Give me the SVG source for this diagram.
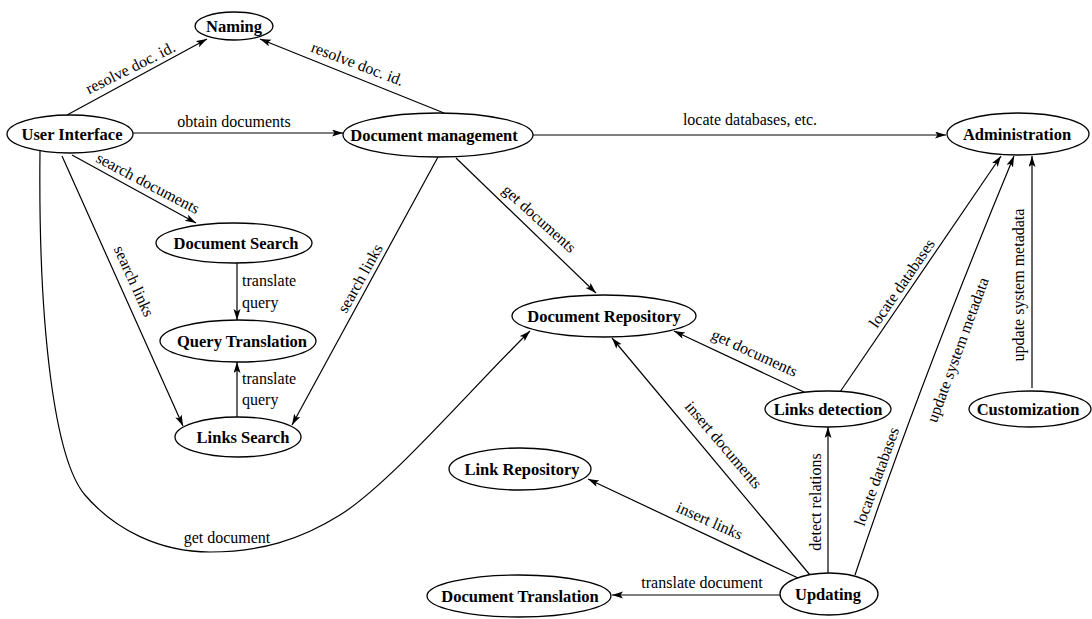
<svg xmlns="http://www.w3.org/2000/svg" width="1092" height="619" viewBox="0 0 1092 619">
<defs>
<style>
.n ellipse{fill:#fff;stroke:#000;stroke-width:1.3}
.n text{font-family:"Liberation Serif","Times New Roman",serif;font-weight:bold;font-size:16.5px;text-anchor:middle;fill:#000}
.e path{fill:none;stroke:#000;stroke-width:1.2;marker-end:url(#ah)}
.l text{font-family:"Liberation Serif","Times New Roman",serif;font-size:16px;fill:#000}
.c{text-anchor:middle}
</style>
<marker id="ah" markerUnits="userSpaceOnUse" markerWidth="12" markerHeight="8" refX="11" refY="3.5" orient="auto">
<path d="M0,0 L11,3.5 L0,7 L2.5,3.5 z" fill="#000"/>
</marker>
</defs>
<rect width="1092" height="619" fill="#fff"/>

<g id="connectors" class="e">
<path d="M67,115 L207,39"/>
<path d="M444,113 L260,39"/>
<path d="M133,133 L343,133"/>
<path d="M533,135 L946,135"/>
<path d="M72,155 L196,223"/>
<path d="M62,156 L183,426"/>
<path d="M438,157 L292,425"/>
<path d="M237,263 L237,320"/>
<path d="M237,417 L237,362"/>
<path d="M40,151 C38,330 55,460 85,495 C115,530 160,552 210,552 C260,552 300,540 340,515 C390,484 470,390 530,331"/>
<path d="M456,158 L596,293"/>
<path d="M806,393 L674,331"/>
<path d="M810,575 L612,338"/>
<path d="M798,578 L588,479"/>
<path d="M780,595 L612,595"/>
<path d="M828,573 L828,427"/>
<path d="M855,575 Q915,395 1014,156"/>
<path d="M840,392 L1001,156"/>
<path d="M1032,388 L1032,156"/>
</g>

<g id="labels" class="l">
<text class="c" transform="translate(131,69) rotate(-26.6)" y="4">resolve doc. id.</text>
<text class="c" transform="translate(357,65) rotate(20.8)" y="4">resolve doc. id.</text>
<text class="c" x="234" y="127">obtain documents</text>
<text class="c" x="750" y="125">locate databases, etc.</text>
<text class="c" transform="translate(146,187) rotate(27.6)" y="1">search documents</text>
<text class="c" transform="translate(130,283) rotate(65.7)" y="1">search links</text>
<text class="c" transform="translate(363,280) rotate(-60.7)" y="2">search links</text>
<text x="242" y="286">translate</text>
<text x="242" y="308">query</text>
<text x="242" y="384">translate</text>
<text x="242" y="405">query</text>
<text class="c" x="227" y="543">get document</text>
<text class="c" transform="translate(537,221) rotate(42)" y="2">get documents</text>
<text class="c" transform="translate(754,354) rotate(24.8)" y="4">get documents</text>
<text class="c" transform="translate(721,447) rotate(49.5)" y="2">insert documents</text>
<text class="c" transform="translate(709,522) rotate(24.1)" y="4">insert links</text>
<text class="c" x="702" y="588">translate document</text>
<text class="c" transform="translate(817,502) rotate(-90)" y="4">detect relations</text>
<text class="c" transform="translate(878,477) rotate(-70)" y="4">locate databases</text>
<text class="c" transform="translate(958,350) rotate(-70)" y="5">update system metadata</text>
<text class="c" transform="translate(903,284) rotate(-55.6)" y="4">locate databases</text>
<text class="c" transform="translate(1020,285) rotate(-90)" y="4">update system metadata</text>
</g>

<g id="naming" class="n"><ellipse cx="234" cy="26" rx="39" ry="14"/><text x="234" y="32">Naming</text></g>
<g id="user-interface" class="n"><ellipse cx="70" cy="134" rx="63" ry="19"/><text x="72" y="140">User Interface</text></g>
<g id="document-management" class="n"><ellipse cx="438" cy="135" rx="95" ry="22"/><text x="434" y="141">Document management</text></g>
<g id="administration" class="n"><ellipse cx="1018" cy="134" rx="71" ry="21"/><text x="1017" y="140">Administration</text></g>
<g id="document-search" class="n"><ellipse cx="234" cy="243" rx="78" ry="20"/><text x="236" y="249">Document Search</text></g>
<g id="query-translation" class="n"><ellipse cx="238" cy="341" rx="78" ry="21"/><text x="242" y="347">Query Translation</text></g>
<g id="links-search" class="n"><ellipse cx="238" cy="437" rx="63" ry="20"/><text x="243" y="443">Links Search</text></g>
<g id="document-repository" class="n"><ellipse cx="604" cy="316" rx="92" ry="21"/><text x="604" y="322">Document Repository</text></g>
<g id="links-detection" class="n"><ellipse cx="828" cy="409" rx="63" ry="18"/><text x="828" y="415">Links detection</text></g>
<g id="customization" class="n"><ellipse cx="1030" cy="409" rx="61" ry="18"/><text x="1028" y="415">Customization</text></g>
<g id="link-repository" class="n"><ellipse cx="520" cy="469" rx="71" ry="21"/><text x="522" y="475">Link Repository</text></g>
<g id="document-translation" class="n"><ellipse cx="519" cy="596" rx="92" ry="21"/><text x="520" y="602">Document Translation</text></g>
<g id="updating" class="n"><ellipse cx="829" cy="594" rx="49" ry="21"/><text x="828" y="600">Updating</text></g>
</svg>
